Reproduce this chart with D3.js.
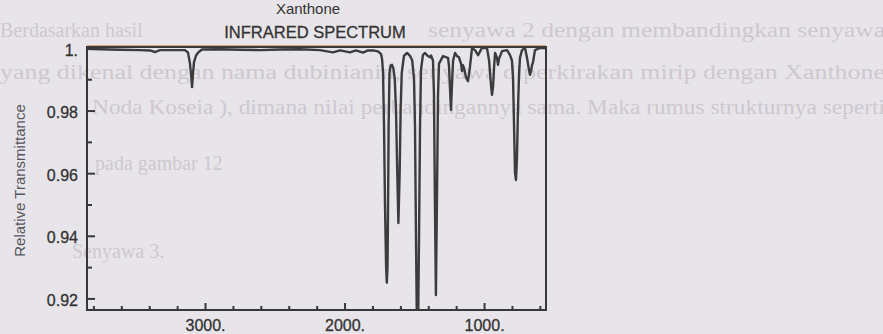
<!DOCTYPE html>
<html><head><meta charset="utf-8">
<script src="https://cdn.jsdelivr.net/npm/d3@7"></script>
<style>html,body{margin:0;padding:0;background:#e8e5ea;overflow:hidden}svg{display:block}</style>
</head><body><svg id="c" width="883" height="334"></svg>
<script>
// ---- data ----
const wavenumbers = [3846,3753,3609,3466,3394,3359,3323,3251,3143,3122,3108,3100,3093,3086,3079,3065,3050,3022,
  2893,2749,2606,2463,2319,2176,2083,2032,1961,1918,1868,1832,1796,1760,1738,1731,1724,1717,1710,1702,1697,1692,
  1688,1684,1678,1670,1660,1650,1640,1631,1622,1614,1605,1598,1590,1574,1552,1531,1515,1502,1495,1488,1481,1473,
  1466,1459,1452,1438,1423,1402,1387,1380,1366,1359,1352,1345,1338,1330,1323,1294,1270,1258,1251,1244,1237,1230,
  1222,1208,1194,1180,1165,1158,1151,1140,1129,1115,1101,1086,1065,1043,1015,979,964,957,950,943,935,928,921,907,
  900,893,871,835,814,800,792,785,778,771,764,757,749,742,728,706,692,678,671,663,656,649,635,599,577,556];
const transmittance = [0.9997,0.9996,0.9994,0.9993,0.9992,0.9987,0.9993,0.9993,0.9993,0.9985,0.9950,0.9915,0.9875,0.9920,0.9955,0.9975,0.9985,0.9995,
  0.9996,0.9994,0.9993,0.9995,0.9996,0.9993,0.9986,0.9992,0.9986,0.9992,0.9985,0.9992,0.9992,0.9989,0.9980,0.9965,0.9920,0.9750,0.9500,0.9300,0.9250,0.9300,
  0.9500,0.9750,0.9920,0.9944,0.9946,0.9935,0.9900,0.9800,0.9600,0.9441,0.9600,0.9800,0.9920,0.9975,0.9984,0.9975,0.9960,0.9900,0.9750,0.9400,0.9100,0.9100,
  0.9400,0.9750,0.9930,0.9978,0.9984,0.9974,0.9970,0.9976,0.9960,0.9850,0.9500,0.9211,0.9500,0.9850,0.9950,0.9974,0.9970,0.9968,0.9940,0.9870,0.9802,0.9880,
  0.9960,0.9984,0.9974,0.9970,0.9950,0.9926,0.9945,0.9930,0.9905,0.9894,0.9940,1.0000,0.9993,0.9977,1.0000,1.0000,0.9960,0.9920,0.9880,0.9850,0.9880,0.9940,0.9984,0.9968,
  0.9946,0.9965,0.9990,0.9993,0.9977,0.9960,0.9900,0.9750,0.9600,0.9578,0.9650,0.9800,0.9920,0.9970,0.9993,1.0000,0.9968,0.9930,0.9914,0.9926,0.9945,0.9955,0.9993,1.0000,1.0000,1.0000];
const xMajorTicks = [3000, 2000, 1000];
const xMinorTicks = [3800, 3600, 3400, 3200, 2800, 2600, 2400, 2200, 1800, 1600, 1400, 1200, 800, 600];
const yMajorTicks = [0.92, 0.94, 0.96, 0.98, 1.0];
const yMinorTicks = [0.93, 0.95, 0.97, 0.99];
const xDomain = [3846, 556];
const yDomain = [0.9163, 1.0003];
const compoundName = "Xanthone";
const chartTitle = "INFRARED SPECTRUM";
const yAxisLabel = "Relative Transmittance";
const pageTexts = [
  "Berdasarkan hasil",
  "senyawa 2 dengan membandingkan senyawa",
  "yang dikenal dengan nama dubinianin, senyawa diperkirakan mirip dengan Xanthone",
  "Noda Koseia ), dimana nilai perbandingannya sama. Maka rumus strukturnya seperti",
  "pada gambar 12",
  "Senyawa 3."
];

// ---- layout ----
const W = 883, H = 334;
const M = {left: 87, right: 337, top: 47, bottom: 24};
const svg = d3.select("#c");
const ink = "#383838";
const font = "'Liberation Sans', Arial, sans-serif";

// faint show-through text of the scanned page
const pageLayout = [
  {x: 0, y: 37, len: null}, {x: 428, y: 37, len: 457},
  {x: 0, y: 79, len: 885}, {x: 92, y: 114, len: 793},
  {x: 95, y: 170, len: null}, {x: 72, y: 258, len: null}
];
const pg = svg.append("g").attr("font-family", "'Liberation Serif', 'DejaVu Serif', serif")
  .attr("font-size", 20).attr("fill", "#cdc8d0");
pageTexts.forEach((t, i) => {
  const L = pageLayout[i];
  const el = pg.append("text").attr("x", L.x).attr("y", L.y).text(t);
  if (L.len) el.attr("textLength", L.len).attr("lengthAdjust", "spacingAndGlyphs");
});

const x = d3.scaleLinear().domain(xDomain).range([M.left, W - M.right]);
const y = d3.scaleLinear().domain(yDomain).range([H - M.bottom, M.top]);

svg.append("clipPath").attr("id", "plotclip").append("rect")
  .attr("x", x.range()[0]).attr("y", y.range()[1])
  .attr("width", x.range()[1] - x.range()[0]).attr("height", y.range()[0] - y.range()[1]);

// spectrum
const data = wavenumbers.map((w, i) => ({w, t: transmittance[i]}));
svg.append("path").datum(data)
  .attr("clip-path", "url(#plotclip)")
  .attr("fill", "none").attr("stroke", "#3c3c3c").attr("stroke-width", 2.4)
  .attr("stroke-linejoin", "round")
  .attr("d", d3.line().x(d => x(d.w)).y(d => y(d.t)));

// scan tint just above the top frame
svg.append("line")
  .attr("x1", x.range()[0]).attr("x2", x.range()[1])
  .attr("y1", y.range()[1] - 1.5).attr("y2", y.range()[1] - 1.5)
  .attr("stroke", "#d6a680").attr("stroke-width", 1);

// frame
svg.append("rect")
  .attr("x", x.range()[0]).attr("y", y.range()[1])
  .attr("width", x.range()[1] - x.range()[0]).attr("height", y.range()[0] - y.range()[1])
  .attr("fill", "none").attr("stroke", ink).attr("stroke-width", 2);

function styleAxis(g) {
  g.select(".domain").remove();
  g.selectAll(".tick line").attr("stroke", ink).attr("stroke-width", 2);
  g.selectAll(".tick text").attr("fill", "#333").attr("font-family", font).attr("font-size", 16)
    .attr("stroke", "#333").attr("stroke-width", 0.3);
}

svg.append("g").attr("transform", `translate(0,${y.range()[0]})`)
  .call(d3.axisBottom(x).tickValues(xMinorTicks).tickSize(-4).tickFormat(""))
  .call(styleAxis);
svg.append("g").attr("transform", `translate(0,${y.range()[0]})`)
  .call(d3.axisBottom(x).tickValues(xMajorTicks).tickSize(-7).tickPadding(10).tickFormat(d => d + "."))
  .call(styleAxis);
svg.append("g").attr("transform", `translate(${x.range()[0]},0)`)
  .call(d3.axisLeft(y).tickValues(yMinorTicks).tickSize(-5).tickFormat(""))
  .call(styleAxis);
svg.append("g").attr("transform", `translate(${x.range()[0]},0)`)
  .call(d3.axisLeft(y).tickValues(yMajorTicks).tickSize(-8).tickPadding(9)
    .tickFormat(d => d === 1 ? "1." : d3.format(".2f")(d)))
  .call(styleAxis)
  .selectAll(".tick text").attr("dy", "0.45em");

// titles
svg.append("text").attr("x", 308).attr("y", 14).attr("text-anchor", "middle")
  .attr("font-family", font).attr("font-size", 15).attr("fill", "#333").text(compoundName);
svg.append("text").attr("x", 315).attr("y", 38).attr("text-anchor", "middle")
  .attr("font-family", font).attr("font-size", 16.5).attr("fill", "#333")
  .attr("stroke", "#333").attr("stroke-width", 0.3).text(chartTitle);
svg.append("text")
  .attr("transform", `translate(25,${(y.range()[0] + y.range()[1]) / 2 + 2}) rotate(-90)`)
  .attr("text-anchor", "middle").attr("font-family", font).attr("font-size", 15)
  .attr("fill", "#55555c").text(yAxisLabel);
</script></body></html>
